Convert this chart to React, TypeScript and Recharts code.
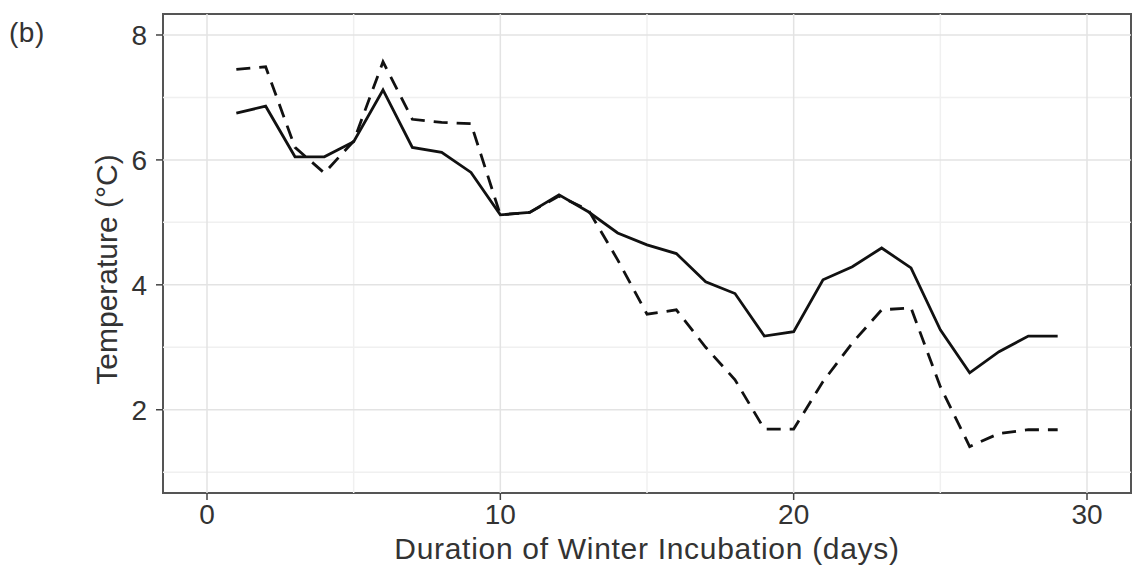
import {
  CartesianGrid,
  Label,
  Line,
  LineChart,
  ReferenceArea,
  ReferenceLine,
  XAxis,
  YAxis,
} from 'recharts';

const days = [
  1, 2, 3, 4, 5, 6, 7, 8, 9, 10, 11, 12, 13, 14, 15, 16, 17, 18, 19, 20, 21, 22, 23, 24, 25, 26, 27,
  28, 29,
];
const solidTemp = [
  6.75, 6.86, 6.05, 6.05, 6.29, 7.12, 6.2, 6.12, 5.8, 5.12, 5.16, 5.44, 5.17, 4.83, 4.64, 4.5, 4.05,
  3.86, 3.18, 3.25, 4.08, 4.29, 4.59, 4.27, 3.28, 2.59, 2.93, 3.18, 3.18,
];
const dashedTemp = [
  7.45, 7.49, 6.2, 5.79, 6.3, 7.57, 6.65, 6.6, 6.58, 5.12, 5.16, 5.42, 5.2, 4.4, 3.53, 3.6, 3.0,
  2.48, 1.69, 1.69, 2.45, 3.07, 3.6, 3.63, 2.37, 1.41, 1.62, 1.68, 1.68,
];

const xTicks = [0, 10, 20, 30];
const yTicks = [2, 4, 6, 8];
const xMinor = [5, 15, 25];
const yMinor = [1, 3, 5, 7];
const xDomain: [number, number] = [-1.5, 31.5];
const yDomain: [number, number] = [0.667, 8.336];

const data = days.map((d, i) => ({ day: d, solid: solidTemp[i], dashed: dashedTemp[i] }));

const font = '"Liberation Sans", Arial, sans-serif';

function YTitle(props: any) {
  const vb = props.viewBox || { x: 0, y: 14, width: 163, height: 479 };
  const cx = vb.x + 106;
  const cy = vb.y + vb.height / 2 + 16;
  return (
    <text
      x={cx}
      y={cy}
      transform={`rotate(-90 ${cx} ${cy})`}
      textAnchor="middle"
      dominantBaseline="central"
      fill="#333"
      fontSize={30}
      fontFamily={font}
    >
      Temperature (°C)
    </text>
  );
}

export default function App() {
  return (
    <div style={{ position: 'absolute', left: 0, top: 0, width: 1138, height: 566, background: '#fff' }}>
      <div
        style={{
          position: 'absolute',
          left: 9,
          top: 19,
          fontFamily: font,
          fontSize: 28,
          lineHeight: 1,
          letterSpacing: 0.5,
          color: '#333',
        }}
      >
        (b)
      </div>
      <LineChart
        width={1138}
        height={566}
        data={data}
        margin={{ top: 14, right: 7, left: 0, bottom: 0 }}
      >
        <CartesianGrid horizontal={false} vertical={false} />
        {xMinor.map((v) => (
          <ReferenceLine key={'xm' + v} x={v} stroke="#f0f0f0" strokeWidth={1.5} />
        ))}
        {yMinor.map((v) => (
          <ReferenceLine key={'ym' + v} y={v} stroke="#f0f0f0" strokeWidth={1.5} />
        ))}
        {xTicks.map((v) => (
          <ReferenceLine key={'xg' + v} x={v} stroke="#e3e3e3" strokeWidth={1.5} />
        ))}
        {yTicks.map((v) => (
          <ReferenceLine key={'yg' + v} y={v} stroke="#e3e3e3" strokeWidth={1.5} />
        ))}
        <XAxis
          dataKey="day"
          type="number"
          domain={xDomain}
          ticks={xTicks}
          allowDataOverflow
          height={73}
          axisLine={false}
          tickLine={{ stroke: '#444', strokeWidth: 1.5 }}
          tickSize={7}
          tickMargin={4}
          tick={{ fill: '#333', fontSize: 28, fontFamily: font }}
        >
          <Label
            value="Duration of Winter Incubation (days)"
            position="insideBottom"
            offset={7}
            style={{ fill: '#333', fontSize: 30, fontFamily: font, letterSpacing: 0.7 }}
          />
        </XAxis>
        <YAxis
          type="number"
          domain={yDomain}
          ticks={yTicks}
          allowDataOverflow
          width={163}
          axisLine={false}
          tickLine={{ stroke: '#444', strokeWidth: 1.5 }}
          tickSize={7}
          tickMargin={9}
          tick={{ fill: '#333', fontSize: 28, fontFamily: font }}
        >
          <Label content={YTitle} />
        </YAxis>
        <Line
          dataKey="dashed"
          type="linear"
          stroke="#111"
          strokeWidth={2.8}
          strokeDasharray="14 9"
          dot={false}
          isAnimationActive={false}
        />
        <Line
          dataKey="solid"
          type="linear"
          stroke="#111"
          strokeWidth={2.8}
          dot={false}
          isAnimationActive={false}
        />
        <ReferenceArea
          x1={xDomain[0]}
          x2={xDomain[1]}
          y1={yDomain[0]}
          y2={yDomain[1]}
          fill="none"
          stroke="#555"
          strokeWidth={2}
          fillOpacity={0}
        />
      </LineChart>
    </div>
  );
}
